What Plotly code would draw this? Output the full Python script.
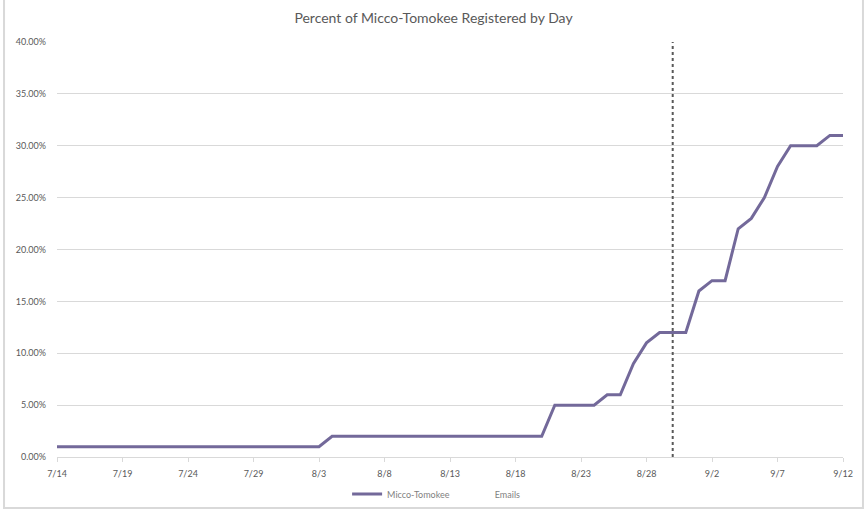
import pandas as pd
import plotly.graph_objects as go

# daily registration share, 7/14 .. 9/12
start_date = "2019-07-14"
end_date = "2019-09-12"
days = pd.date_range(start_date, end_date, freq="D")
pct_registered = (
    [0.01] * 21
    + [0.02] * 17
    + [0.05] * 4
    + [0.06, 0.06, 0.09, 0.11, 0.12, 0.12, 0.12, 0.16, 0.17, 0.17,
       0.22, 0.23, 0.25, 0.28, 0.30, 0.30, 0.30, 0.31, 0.31]
)
email_date = "2019-08-30"
tick_dates = pd.date_range(start_date, end_date, freq="5D")

line_color = "#73699A"
grid_color = "#D9D9D9"
text_color = "#595959"
font_family = "Lato, 'Open Sans', sans-serif"

fig = go.Figure()
fig.add_trace(go.Scatter(
    x=days, y=pct_registered, mode="lines", name="Micco-Tomokee",
    line=dict(color=line_color, width=3),
))
# vertical dashed marker for the email send
fig.add_trace(go.Scatter(
    x=[email_date, email_date], y=[0, 0.40], mode="lines", showlegend=False,
    line=dict(color="#595959", width=2, dash="dot"), hoverinfo="skip",
))
# legend entry only
fig.add_trace(go.Scatter(
    x=[None], y=[None], mode="lines", name="Emails",
    line=dict(color="rgba(0,0,0,0)", width=3),
))

fig.update_layout(
    width=867, height=513,
    margin=dict(l=57, r=24, t=42, b=56, autoexpand=False),
    paper_bgcolor="white", plot_bgcolor="white",
    font=dict(family=font_family, color=text_color, size=9),
    title=dict(text="Percent of Micco-Tomokee Registered by Day",
               x=0.5, xanchor="center", y=0.965, yanchor="middle",
               font=dict(size=14, color=text_color)),
    legend=dict(orientation="h", xref="container", yref="container",
                x=0.503, xanchor="center", y=0.037, yanchor="middle",
                bgcolor="rgba(0,0,0,0)",
                font=dict(size=9, color="#7F7F7F"), itemwidth=30, tracegroupgap=0),
    showlegend=True,
    shapes=[dict(type="rect", xref="paper", yref="paper",
                 x0=-0.0674, x1=1.0254, y0=-0.1229, y1=1.1036,
                 line=dict(color=grid_color, width=2), layer="below")],
)
fig.update_xaxes(
    type="date", range=[start_date, end_date],
    tickvals=tick_dates, tickformat="%-m/%-d",
    showgrid=False, showline=True, linecolor=grid_color, linewidth=1,
    ticks="outside", ticklen=4, tickcolor=grid_color,
    ticklabelstandoff=4, zeroline=False,
)
fig.update_yaxes(
    range=[0, 0.40], dtick=0.05, tickformat=".2%",
    showgrid=True, gridcolor=grid_color, gridwidth=1,
    zeroline=False, showline=False, ticklabelstandoff=10,
)

fig.write_html("out.html", config={"displayModeBar": False},
               post_script="document.body.style.margin='0';")
